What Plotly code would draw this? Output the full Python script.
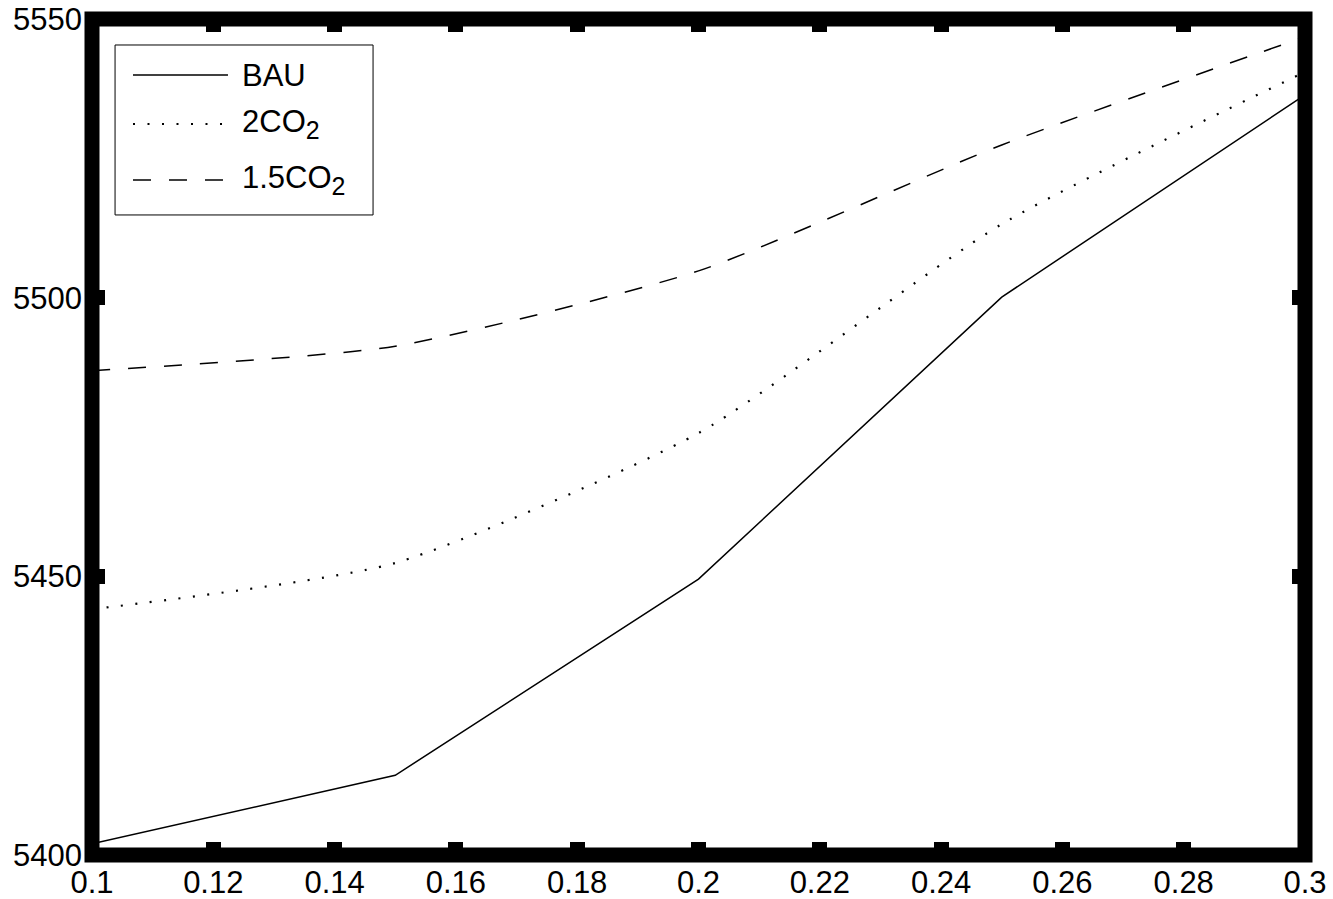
import plotly.graph_objects as go

x_vals = [0.1, 0.15, 0.2, 0.25, 0.3]
bau = [5402.0, 5414.3, 5449.5, 5500.1, 5536.4]
co2_2 = [5444.1, 5452.4, 5475.7, 5513.2, 5540.5]
co2_15 = [5486.9, 5491.3, 5504.8, 5527.4, 5546.8]
x_ticks = [0.1, 0.12, 0.14, 0.16, 0.18, 0.2, 0.22, 0.24, 0.26, 0.28, 0.3]
x_tick_labels = ["0.1", "0.12", "0.14", "0.16", "0.18", "0.2", "0.22", "0.24", "0.26", "0.28", "0.3"]
y_ticks = [5400, 5450, 5500, 5550]
SUB2 = "<sub><span style='font-size:25px'>2</span></sub>"
legend_names = ["BAU", "2CO" + SUB2, "1.5CO" + SUB2]

FONT = "Liberation Sans, Arial, Helvetica, sans-serif"

fig = go.Figure()
fig.add_trace(go.Scatter(x=x_vals, y=bau, mode="lines", name="BAU",
                         line=dict(color="black", width=1.5), showlegend=False))
fig.add_trace(go.Scatter(x=x_vals, y=co2_2, mode="lines", name="2CO2",
                         line=dict(color="black", width=2.2, dash="2px,12.5px",
                                   shape="spline", smoothing=0.6), showlegend=False))
fig.add_trace(go.Scatter(x=x_vals, y=co2_15, mode="lines", name="1.5CO2",
                         line=dict(color="black", width=1.5, dash="18px,18px",
                                   shape="spline", smoothing=0.6), showlegend=False))

shapes = []
# thick frame
shapes.append(dict(type="rect", xref="paper", yref="paper", x0=0, x1=1, y0=0, y1=1,
                   line=dict(color="black", width=15), layer="above"))
# legend box
shapes.append(dict(type="rect", xref="paper", yref="paper", x0=0.019, x1=0.2317,
                   y0=0.7656, y1=0.9689, line=dict(color="black", width=1),
                   fillcolor="white", layer="above"))
leg_y = [0.933, 0.8744, 0.8074]
leg_dash = ["solid", "2px,12.5px", "18px,18px"]
leg_w = [1.5, 2.2, 1.5]
for yy, dd, ww in zip(leg_y, leg_dash, leg_w):
    shapes.append(dict(type="line", xref="paper", yref="paper", x0=0.0338, x1=0.1121,
                       y0=yy, y1=yy, line=dict(color="black", width=ww, dash=dd),
                       layer="above"))

annotations = []
leg_text_y = [0.933, 0.8744, 0.8074]
for name, yy in zip(legend_names, leg_text_y):
    annotations.append(dict(xref="paper", yref="paper", x=0.122, y=yy, text=name,
                            showarrow=False, xanchor="left", yanchor="middle",
                            font=dict(family=FONT, size=31, color="black")))

fig.update_layout(
    width=1333, height=899,
    margin=dict(l=92, r=28, t=19, b=44, pad=0),
    plot_bgcolor="white", paper_bgcolor="white",
    font=dict(family=FONT, size=31, color="black"),
    shapes=shapes, annotations=annotations,
    showlegend=False,
)
fig.update_xaxes(range=[0.1, 0.3], tickvals=x_ticks, ticktext=x_tick_labels,
                 ticks="inside", ticklen=13, tickwidth=15, tickcolor="black",
                 mirror="ticks", showline=False, showgrid=False, zeroline=False,
                 automargin=False, ticklabelstandoff=6,
                 tickfont=dict(family=FONT, size=31, color="black"))
fig.update_yaxes(range=[5400, 5550], tickvals=y_ticks,
                 ticks="inside", ticklen=13, tickwidth=15, tickcolor="black",
                 mirror="ticks", showline=False, showgrid=False, zeroline=False,
                 automargin=False, ticklabelstandoff=9,
                 tickfont=dict(family=FONT, size=31, color="black"))

fig.write_html("out.html")
